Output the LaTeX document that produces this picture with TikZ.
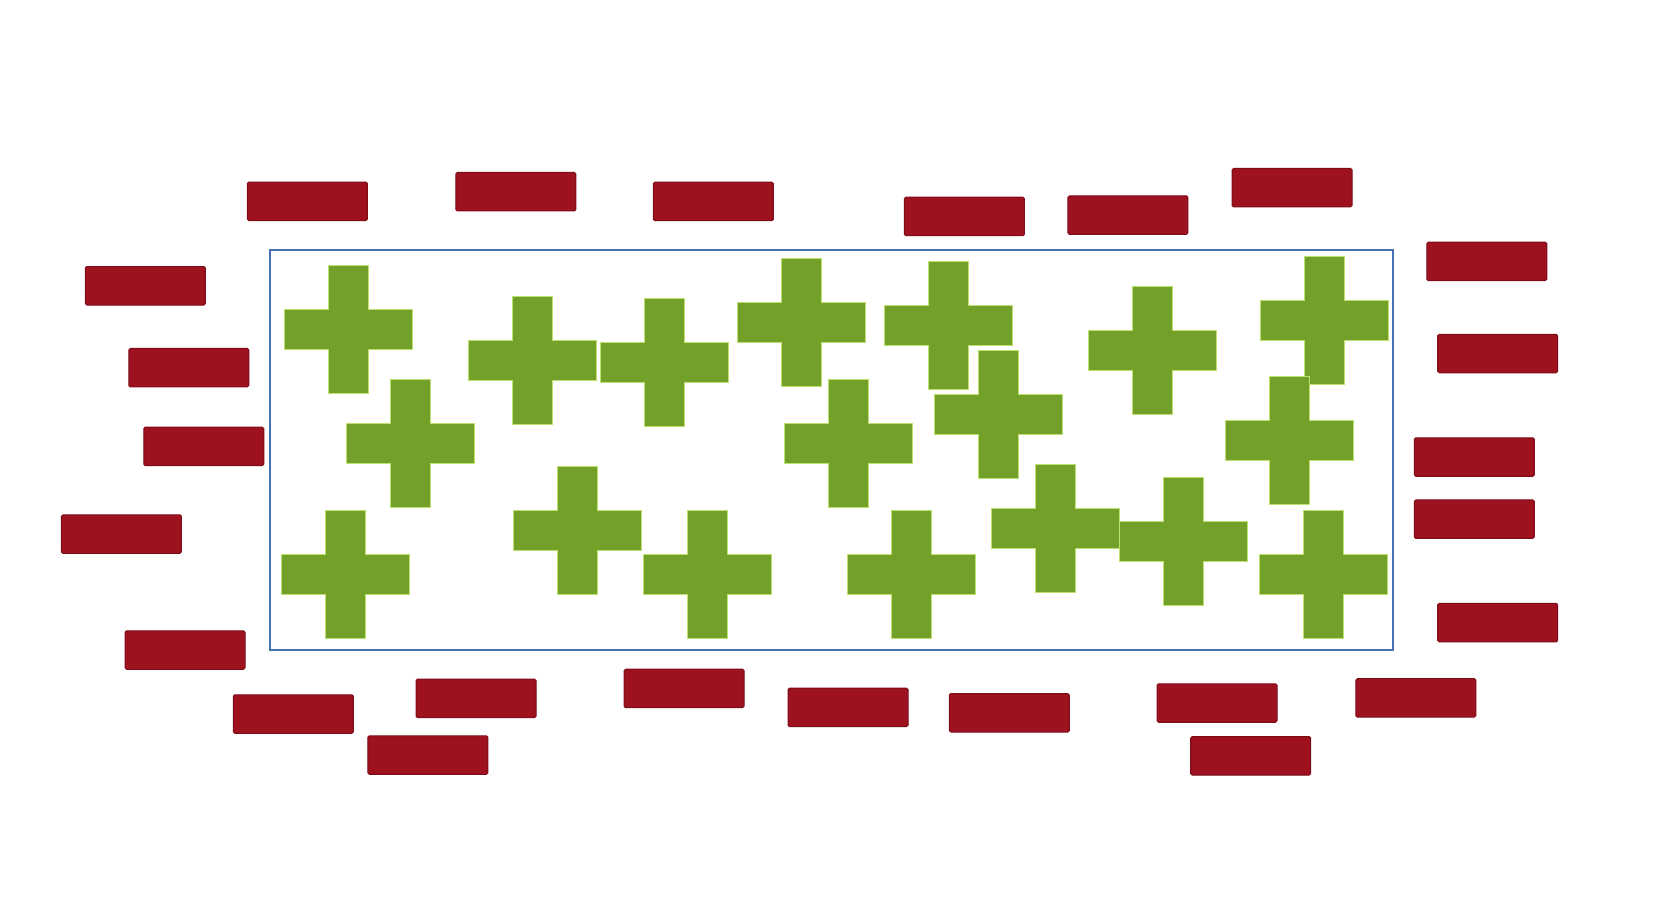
\documentclass[tikz,border=0pt]{standalone}
\usetikzlibrary{positioning}
\definecolor{brickred}{RGB}{158,17,30}
\definecolor{brickedge}{RGB}{125,12,24}
\definecolor{leafgreen}{RGB}{114,160,40}
\definecolor{leafedge}{RGB}{190,225,110}
\definecolor{frameblue}{RGB}{68,112,180}
\tikzset{
  brick/.style={rectangle, fill=brickred, draw=brickedge, line width=1pt, rounded corners=1.5pt,
    minimum width=120pt, minimum height=38.5pt, inner sep=0pt, outer sep=0pt},
  frame/.style={draw=frameblue, line width=2.6pt, fill=none},
  pics/plusmark/.style={code={
    \fill[leafgreen, draw=leafedge, line width=0.8pt]
      (-64,-20) -- (-20,-20) -- (-20,-64) -- (20,-64) -- (20,-20) -- (64,-20)
      -- (64,20) -- (20,20) -- (20,64) -- (-20,64) -- (-20,20) -- (-64,20) -- cycle;
  }}
}
\begin{document}
\begin{tikzpicture}[x=1pt,y=-1pt]
\useasboundingbox[fill=white] (0,0) rectangle (1660,912);
% container
\draw[frame] (270,250) rectangle (1393,650);
\coordinate (box) at (831.5,450);
% red bricks
\node[brick] (r1) at (307.4,201.3) {};
\node[brick] (r2) at (515.9,191.7) {};
\node[brick] (r3) at (713.4,201.5) {};
\node[brick] (r4) at (964.4,216.5) {};
\node[brick] (r5) at (1127.9,215.1) {};
\node[brick] (r6) at (1292.0,187.7) {};
\node[brick] (r7) at (145.4,285.8) {};
\node[brick] (r8) at (188.8,367.7) {};
\node[brick] (r9) at (203.8,446.4) {};
\node[brick] (r10) at (121.4,534.1) {};
\node[brick] (r11) at (185.0,650.0) {};
\node[brick] (r12) at (293.4,714.0) {};
\node[brick] (r13) at (476.0,698.3) {};
\node[brick] (r14) at (427.8,755.0) {};
\node[brick] (r15) at (684.1,688.4) {};
\node[brick] (r16) at (848.0,707.4) {};
\node[brick] (r17) at (1009.3,712.8) {};
\node[brick] (r18) at (1217.0,703.0) {};
\node[brick] (r19) at (1250.7,755.8) {};
\node[brick] (r20) at (1415.8,697.9) {};
\node[brick] (r21) at (1486.8,261.4) {};
\node[brick] (r22) at (1497.7,353.5) {};
\node[brick] (r23) at (1474.3,457.0) {};
\node[brick] (r24) at (1474.3,519.2) {};
\node[brick] (r25) at (1497.7,622.6) {};
% green plus marks
\pic (g1) at (348,329) {plusmark};
\pic (g2) at (410.5,443) {plusmark};
\pic (g3) at (532,360) {plusmark};
\pic (g4) at (664.8,362) {plusmark};
\pic (g5) at (801.3,322) {plusmark};
\pic (g6) at (948,325) {plusmark};
\pic (g7) at (1152.7,350.3) {plusmark};
\pic (g8) at (1324,320) {plusmark};
\pic (g9) at (848,443) {plusmark};
\pic (g10) at (998.8,414) {plusmark};
\pic (g11) at (1289,440.7) {plusmark};
\pic (g12) at (345.7,574) {plusmark};
\pic (g13) at (577,530.7) {plusmark};
\pic (g14) at (707.3,574.2) {plusmark};
\pic (g15) at (911,574) {plusmark};
\pic (g16) at (1055,528) {plusmark};
\pic (g17) at (1183.7,541.4) {plusmark};
\pic (g18) at (1323.3,574.2) {plusmark};
\end{tikzpicture}
\end{document}
